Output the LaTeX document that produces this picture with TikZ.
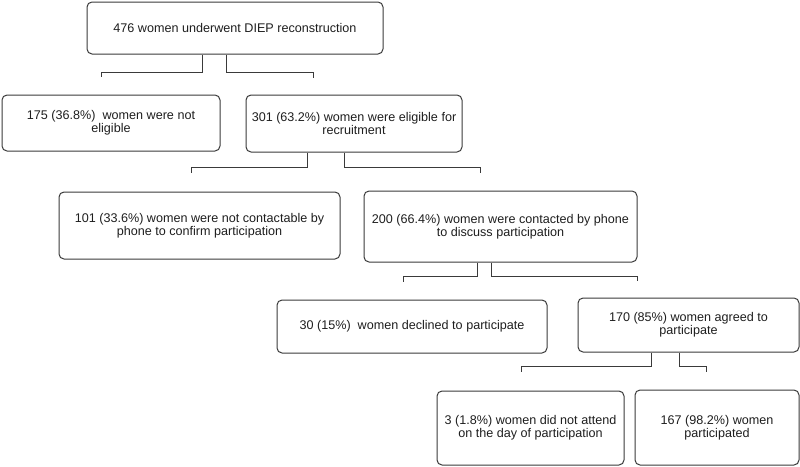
\documentclass[tikz,border=0pt]{standalone}
\usepackage{fontspec}
\setmainfont{Liberation Sans}
\definecolor{boxline}{HTML}{3A3A3A}
\definecolor{txt}{HTML}{1E1E1E}
\begin{document}
\begin{tikzpicture}[x=1pt,y=-1pt,
  fbox/.style={draw=boxline, line width=1pt, rounded corners=5pt, rectangle,
    inner sep=0pt, align=center, text=txt,
    font=\fontsize{12.6}{13}\selectfont},
  conn/.style={draw=boxline, line width=1pt}]
\useasboundingbox (0,0) rectangle (800,466);
\node[fbox, minimum width=296pt, minimum height=52pt] (b1) at (235,28) {476 women underwent DIEP reconstruction};
\node[fbox, minimum width=218pt, minimum height=56pt] (b2) at (111,123) {175 (36.8\%)\ \ women were not\\eligible};
\node[fbox, minimum width=216pt, minimum height=57pt] (b3) at (354,123.5) {301 (63.2\%) women were eligible for\\recruitment};
\node[fbox, minimum width=281pt, minimum height=67pt] (b4) at (199.5,225.5) {101 (33.6\%) women were not contactable by\\phone to confirm participation};
\node[fbox, minimum width=273pt, minimum height=71pt] (b5) at (500.5,226.5) {200 (66.4\%) women were contacted by phone\\to discuss participation};
\node[fbox, minimum width=270pt, minimum height=53pt] (b6) at (412,326.5) {30 (15\%)\ \ women declined to participate};
\node[fbox, minimum width=221pt, minimum height=54pt] (b7) at (688.5,325) {170 (85\%) women agreed to\\participate};
\node[fbox, minimum width=187pt, minimum height=74pt] (b8) at (530.5,428) {3 (1.8\%) women did not attend\\on the day of participation};
\node[fbox, minimum width=164pt, minimum height=75pt] (b9) at (717,427.5) {167 (98.2\%) women\\participated};

\coordinate (e1l) at (101,77);
\coordinate (e1r) at (313,78);
\coordinate (e2l) at (191,173);
\coordinate (e2r) at (480,173);
\coordinate (e3l) at (403,282);
\coordinate (e3r) at (637,281);
\coordinate (e4l) at (521,372);
\coordinate (e4r) at (706,372);

\draw[conn] ([xshift=-33pt]b1.south) -- ++(0,18) -| (e1l);
\draw[conn] ([xshift=-9pt]b1.south) -- ++(0,18) -| (e1r);
\draw[conn] ([xshift=-47pt]b3.south) -- ++(0,15) -| (e2l);
\draw[conn] ([xshift=-10pt]b3.south) -- ++(0,15) -| (e2r);
\draw[conn] ([xshift=-23.5pt]b5.south) -- ++(0,14) -| (e3l);
\draw[conn] ([xshift=-9.5pt]b5.south) -- ++(0,14) -| (e3r);
\draw[conn] ([xshift=-37.5pt]b7.south) -- ++(0,14) -| (e4l);
\draw[conn] ([xshift=-9.5pt]b7.south) -- ++(0,14) -| (e4r);
\end{tikzpicture}
\end{document}
